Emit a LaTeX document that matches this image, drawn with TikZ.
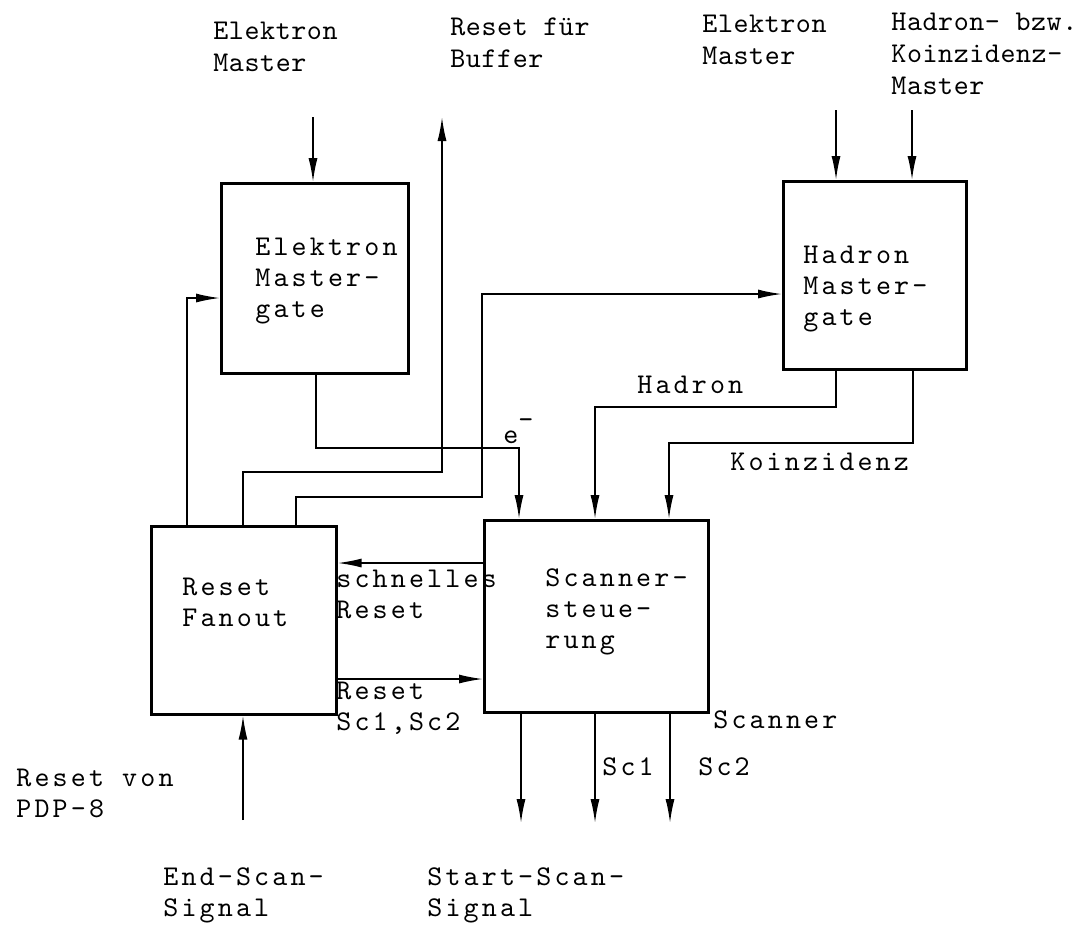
\documentclass[tikz,border=0pt]{standalone}
\usepackage{fontspec}
\newfontfamily\twwide{lmmono10-regular}[Extension=.otf, LetterSpace=11]
\newfontfamily\twnarrow{lmmono10-regular}[Extension=.otf, LetterSpace=2]
\usetikzlibrary{arrows.meta}
\begin{document}
\begin{tikzpicture}[x=0.5pt,y=-0.5pt,
  blk/.style={draw, line width=1.3pt, anchor=north west, inner sep=0pt},
  big/.style={font=\twwide\fontsize{14.3}{15.5}\selectfont, align=left, anchor=base west, inner sep=0pt},
  small/.style={font=\twnarrow\fontsize{14.3}{15.8}\selectfont, align=left, anchor=base west, inner sep=0pt},
  wire/.style={line width=0.8pt},
  arr/.style={wire, -{Latex[length=12pt,width=4.5pt]}}]
\useasboundingbox (0,0) rectangle (1079,928);

% boxes
\node[blk, minimum width=93.5pt, minimum height=95pt] (EMG) at (220,182) {};
\node[blk, minimum width=91.5pt, minimum height=94pt] (HMG) at (782,180) {};
\node[blk, minimum width=92.5pt, minimum height=94pt] (RF) at (150,525) {};
\node[blk, minimum width=112pt, minimum height=96pt] (SC) at (483,519) {};

% box texts (position = baseline of last line)
\node[big] (tEMG) at (255,317) {Elektron\\Master-\\gate};
\node[big] (tHMG) at (803,325) {Hadron\\Master-\\gate};
\node[big] (tRF) at (182,626) {Reset\\Fanout};
\node[big] (tSC) at (545,648) {Scanner-\\steue-\\rung};

% top labels
\node[small] (lEM1) at (213,71) {Elektron\\Master};
\node[small] (lBuf) at (450,67) {Reset für\\Buffer};
\node[small] (lEM2) at (702,64) {Elektron\\Master};
\node[small] (lHK) at (891,94) {Hadron- bzw.\\Koinzidenz-\\Master};

% other labels
\node[big] (lHad) at (637,393) {Hadron};
\node[big] (lE) at (503,443) {e\raisebox{0.5em}{-}};
\node[big] (lKoi) at (730,470) {Koinzidenz};
\node[big] (lSch) at (336,618) {schnelles\\Reset};
\node[big] (lRSc) at (336,730) {Reset\\Sc1,Sc2};
\node[big] (lScan) at (713,728) {Scanner};
\node[big] (lSc1) at (602,775) {Sc1};
\node[big] (lSc2) at (698,775) {Sc2};
\node[big] (lPDP) at (16,817) {Reset von\\PDP-8};
\node[big] (lEnd) at (163,916) {End-Scan-\\Signal};
\node[big] (lStart) at (427,916) {Start-Scan-\\Signal};

% inputs from top
\coordinate (emin) at (313,117);
\draw[arr] (emin) -- (emin |- EMG.north);
\coordinate (hin1) at (836,110);
\coordinate (hin2) at (912,110);
\draw[arr] (hin1) -- (hin1 |- HMG.north);
\draw[arr] (hin2) -- (hin2 |- HMG.north);

% reset for buffer
\coordinate (buf) at (442,117);
\coordinate (b1) at (243,472);
\draw[arr] (b1 |- RF.north) -- (b1) -| (buf);

% feedback to Elektron Mastergate
\coordinate (f1) at (187,298);
\draw[arr] (f1 |- RF.north) -- (f1) -- (f1 -| EMG.west);

% to Hadron Mastergate
\coordinate (h1) at (296,497);
\coordinate (h2) at (482,294);
\draw[arr] (h1 |- RF.north) -- (h1) -| (h2) -- (h2 -| HMG.west);

% e-
\coordinate (e1) at (316,448);
\coordinate (e2) at (519,448);
\draw[arr] (e1 |- EMG.south) -- (e1) -- (e2) -- (e2 |- SC.north);

% Hadron
\coordinate (ha1) at (836,407);
\coordinate (ha2) at (595,407);
\draw[arr] (ha1 |- HMG.south) -- (ha1) -- (ha2) -- (ha2 |- SC.north);

% Koinzidenz
\coordinate (k1) at (913,443);
\coordinate (k2) at (669,443);
\draw[arr] (k1 |- HMG.south) -- (k1) -- (k2) -- (k2 |- SC.north);

% schnelles Reset / Reset Sc1,Sc2
\coordinate (s1) at (400,563);
\coordinate (s2) at (400,679);
\draw[arr] (s1 -| SC.west) -- (s1 -| RF.east);
\draw[arr] (s2 -| RF.east) -- (s2 -| SC.west);

% End-Scan input
\coordinate (es) at (243,820);
\draw[arr] (es) -- (es |- RF.south);

% scanner outputs
\coordinate (o1) at (521,823);
\coordinate (o2) at (595,823);
\coordinate (o3) at (670,823);
\draw[arr] (o1 |- SC.south) -- (o1);
\draw[arr] (o2 |- SC.south) -- (o2);
\draw[arr] (o3 |- SC.south) -- (o3);
\end{tikzpicture}
\end{document}
